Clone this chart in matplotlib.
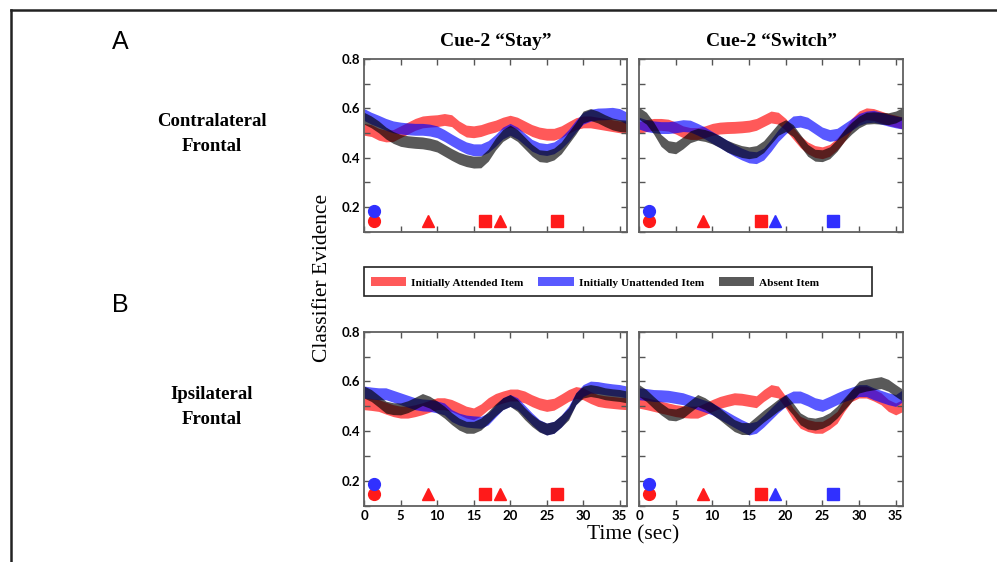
#Gráfico de evidencia del clasificador (frontal contralateral / ipsilateral)

#Librerías
import matplotlib.pyplot as plt
from matplotlib.patches import Patch, Rectangle
from matplotlib.lines import Line2D
from matplotlib.ticker import MultipleLocator

#Datos
time = list(range(37))

#A: Contralateral Frontal
a_stay_attended = [0.515, 0.51, 0.495, 0.488, 0.49, 0.505, 0.52, 0.535, 0.545, 0.548, 0.55, 0.555, 0.55,
                   0.525, 0.508, 0.505, 0.51, 0.52, 0.528, 0.54, 0.548, 0.54, 0.525, 0.51, 0.5, 0.495,
                   0.495, 0.505, 0.522, 0.538, 0.545, 0.545, 0.54, 0.535, 0.53, 0.525, 0.52]
a_stay_unattended = [0.575, 0.56, 0.548, 0.535, 0.525, 0.52, 0.517, 0.515, 0.515, 0.512, 0.505, 0.49, 0.472,
                     0.455, 0.44, 0.432, 0.432, 0.445, 0.47, 0.5, 0.515, 0.5, 0.475, 0.45, 0.437, 0.433,
                     0.44, 0.46, 0.49, 0.528, 0.56, 0.572, 0.577, 0.578, 0.58, 0.575, 0.56]
a_stay_absent = [0.56, 0.545, 0.525, 0.5, 0.482, 0.47, 0.465, 0.462, 0.46, 0.455, 0.447, 0.43, 0.413,
                 0.398, 0.388, 0.382, 0.383, 0.41, 0.455, 0.49, 0.508, 0.49, 0.46, 0.43, 0.408, 0.405,
                 0.415, 0.44, 0.48, 0.52, 0.565, 0.575, 0.565, 0.55, 0.537, 0.53, 0.528]

a_switch_attended = [0.522, 0.53, 0.535, 0.535, 0.532, 0.52, 0.505, 0.498, 0.498, 0.505, 0.515, 0.52, 0.522,
                     0.523, 0.525, 0.528, 0.535, 0.55, 0.565, 0.56, 0.535, 0.5, 0.465, 0.44, 0.425, 0.42,
                     0.43, 0.455, 0.49, 0.535, 0.565, 0.578, 0.575, 0.565, 0.555, 0.548, 0.54]
a_switch_unattended = [0.54, 0.53, 0.525, 0.522, 0.522, 0.525, 0.53, 0.528, 0.515, 0.5, 0.482, 0.465, 0.447,
                       0.43, 0.415, 0.403, 0.4, 0.415, 0.45, 0.49, 0.52, 0.545, 0.548, 0.54, 0.52, 0.5,
                       0.49, 0.495, 0.515, 0.535, 0.555, 0.565, 0.568, 0.56, 0.552, 0.545, 0.54]
a_switch_absent = [0.58, 0.56, 0.52, 0.47, 0.445, 0.44, 0.46, 0.485, 0.495, 0.49, 0.48, 0.465, 0.447,
                   0.435, 0.425, 0.42, 0.425, 0.445, 0.48, 0.515, 0.53, 0.51, 0.47, 0.43, 0.41, 0.408,
                   0.42, 0.45, 0.49, 0.52, 0.545, 0.56, 0.562, 0.56, 0.558, 0.565, 0.58]

#B: Ipsilateral Frontal
b_stay_attended = [0.51, 0.507, 0.503, 0.492, 0.482, 0.476, 0.476, 0.482, 0.49, 0.5, 0.51, 0.51, 0.503,
                   0.49, 0.476, 0.469, 0.485, 0.51, 0.527, 0.537, 0.545, 0.545, 0.537, 0.522, 0.51, 0.503,
                   0.508, 0.525, 0.543, 0.555, 0.55, 0.535, 0.523, 0.518, 0.515, 0.512, 0.51]
b_stay_unattended = [0.557, 0.553, 0.55, 0.55, 0.54, 0.53, 0.52, 0.51, 0.505, 0.503, 0.497, 0.489, 0.462,
                     0.448, 0.44, 0.437, 0.435, 0.449, 0.48, 0.51, 0.523, 0.51, 0.48, 0.449, 0.422, 0.408,
                     0.415, 0.44, 0.476, 0.53, 0.563, 0.577, 0.575, 0.57, 0.566, 0.563, 0.557]
b_stay_absent = [0.557, 0.543, 0.52, 0.496, 0.49, 0.489, 0.498, 0.512, 0.527, 0.516, 0.497, 0.476, 0.45,
                 0.428, 0.415, 0.415, 0.428, 0.455, 0.485, 0.51, 0.523, 0.503, 0.47, 0.442, 0.42, 0.408,
                 0.415, 0.44, 0.469, 0.53, 0.557, 0.563, 0.558, 0.55, 0.546, 0.543, 0.537]

b_switch_attended = [0.516, 0.51, 0.503, 0.496, 0.489, 0.482, 0.478, 0.476, 0.476, 0.489, 0.503, 0.515, 0.523,
                     0.53, 0.528, 0.523, 0.518, 0.543, 0.563, 0.557, 0.516, 0.469, 0.435, 0.422, 0.415, 0.415,
                     0.432, 0.455, 0.503, 0.543, 0.557, 0.557, 0.545, 0.53, 0.503, 0.489, 0.503]
b_switch_unattended = [0.55, 0.547, 0.543, 0.542, 0.54, 0.535, 0.53, 0.52, 0.51, 0.5, 0.489, 0.472, 0.455,
                       0.438, 0.422, 0.408, 0.415, 0.44, 0.469, 0.498, 0.523, 0.537, 0.537, 0.525, 0.51, 0.503,
                       0.516, 0.53, 0.543, 0.553, 0.563, 0.563, 0.55, 0.54, 0.53, 0.523, 0.543]
b_switch_absent = [0.563, 0.543, 0.515, 0.489, 0.468, 0.465, 0.476, 0.5, 0.523, 0.51, 0.49, 0.469, 0.445,
                   0.422, 0.41, 0.41, 0.435, 0.46, 0.482, 0.505, 0.523, 0.489, 0.449, 0.432, 0.428, 0.435,
                   0.45, 0.476, 0.51, 0.543, 0.577, 0.585, 0.59, 0.595, 0.584, 0.563, 0.543]

#Eventos (marcadores bajo las curvas)
event_x = [1.4, 1.4, 8.7, 16.6, 18.6, 26.4]
event_y = [0.145, 0.185, 0.145, 0.145, 0.145, 0.145]
event_marker = ['o', 'o', '^', 's', '^', 's']
stay_event_color = ['red', 'blue', 'red', 'red', 'red', 'red']
switch_event_color = ['red', 'blue', 'red', 'red', 'blue', 'blue']

series_names = ['Initially Attended Item', 'Initially Unattended Item', 'Absent Item']
series_colors = ['#ff0000', '#0000ff', '#000000']
marker_colors = {'red': '#ff1a1a', 'blue': '#3030ff'}
band = 0.024

panels = [
    [(a_stay_attended, a_stay_unattended, a_stay_absent), stay_event_color],
    [(a_switch_attended, a_switch_unattended, a_switch_absent), switch_event_color],
    [(b_stay_attended, b_stay_unattended, b_stay_absent), stay_event_color],
    [(b_switch_attended, b_switch_unattended, b_switch_absent), switch_event_color],
]

#Figura
W, H = 997, 562
fig = plt.figure(figsize=(W / 100, H / 100), dpi=100)

def box(x0, y0, x1, y1):
    return [x0 / W, 1 - y1 / H, (x1 - x0) / W, (y1 - y0) / H]

rects = [box(364, 59, 627, 231.7), box(639, 59, 903, 231.7),
         box(364, 331.7, 627, 505.5), box(639, 331.7, 903, 505.5)]

axes = []
for i, (rect, (curves, ev_colors)) in enumerate(zip(rects, panels)):
    ax = fig.add_axes(rect)
    axes.append(ax)
    for vals, col in zip(curves, series_colors):
        lo = [v - band for v in vals]
        hi = [v + band for v in vals]
        ax.fill_between(time, lo, hi, color=col, alpha=0.65, linewidth=0)
    for x, y, m, c in zip(event_x, event_y, event_marker, ev_colors):
        ms = 8.5 if m == 'o' else (8 if m == 's' else 9)
        ax.plot(x, y, marker=m, color=marker_colors[c], markersize=ms, linestyle='none')
    ax.set_xlim(0, 36)
    ax.set_ylim(0.1, 0.8)
    ax.set_xticks(range(0, 36, 5))
    ax.set_yticks([0.2, 0.4, 0.6, 0.8])
    ax.yaxis.set_minor_locator(MultipleLocator(0.1))
    ax.tick_params(which='both', direction='in', top=True, right=True, length=4, width=1,
                   color='#555555', labelsize=9.5, pad=3)
    for lab in ax.get_xticklabels() + ax.get_yticklabels():
        lab.set_fontfamily('Lato')
        lab.set_fontweight('bold')
    for sp in ax.spines.values():
        sp.set_color('#606060')
        sp.set_linewidth(1.3)
    if i < 2:
        ax.tick_params(labelbottom=False)
    if i % 2 == 1:
        ax.tick_params(labelleft=False)

serif = 'Liberation Serif'
axes[0].set_title('Cue-2 \u201cStay\u201d', family=serif, fontweight='bold', fontsize=14, pad=9)
axes[1].set_title('Cue-2 \u201cSwitch\u201d', family=serif, fontweight='bold', fontsize=14, pad=9)

#Textos de la figura
fig.text(120 / W, 1 - 42 / H, 'A', family='Liberation Sans', fontsize=18, ha='center', va='center')
fig.text(120 / W, 1 - 305 / H, 'B', family='Liberation Sans', fontsize=18, ha='center', va='center')
fig.text(212 / W, 1 - 134 / H, 'Contralateral\nFrontal', family=serif, fontweight='bold',
         fontsize=13.5, ha='center', va='center', linespacing=1.6)
fig.text(212 / W, 1 - 407 / H, 'Ipsilateral\nFrontal', family=serif, fontweight='bold',
         fontsize=13.5, ha='center', va='center', linespacing=1.6)
fig.text(322 / W, 1 - 278 / H, 'Classifier Evidence', family=serif, fontsize=15.5,
         rotation=90, ha='center', va='center')
fig.text(633 / W, 1 - 535 / H, 'Time (sec)', family=serif, fontsize=15.5, ha='center', va='center')

#Leyenda
handles = [Patch(facecolor=c, alpha=0.65, linewidth=0) for c in series_colors]
fig.legend(handles, series_names, loc='center left', bbox_to_anchor=(370.7 / W, 1 - 282.5 / H),
           ncol=3, frameon=False, borderpad=0, borderaxespad=0, handlelength=3.1,
           handleheight=0.75, handletextpad=0.45, columnspacing=1.3,
           prop={'family': serif, 'weight': 'bold', 'size': 8.2})
fig.add_artist(Rectangle((364 / W, 1 - 295.7 / H), (872 - 364) / W, 29 / H,
                         transform=fig.transFigure, fill=False, edgecolor='#222222', linewidth=1.2))

#Marco exterior (solo arriba e izquierda)
fig.add_artist(Line2D([11 / W, 1], [1 - 10 / H, 1 - 10 / H], color='#222222', linewidth=1.8))
fig.add_artist(Line2D([11 / W, 11 / W], [0, 1 - 10 / H], color='#222222', linewidth=1.8))

fig.savefig('out.png', dpi=100)
